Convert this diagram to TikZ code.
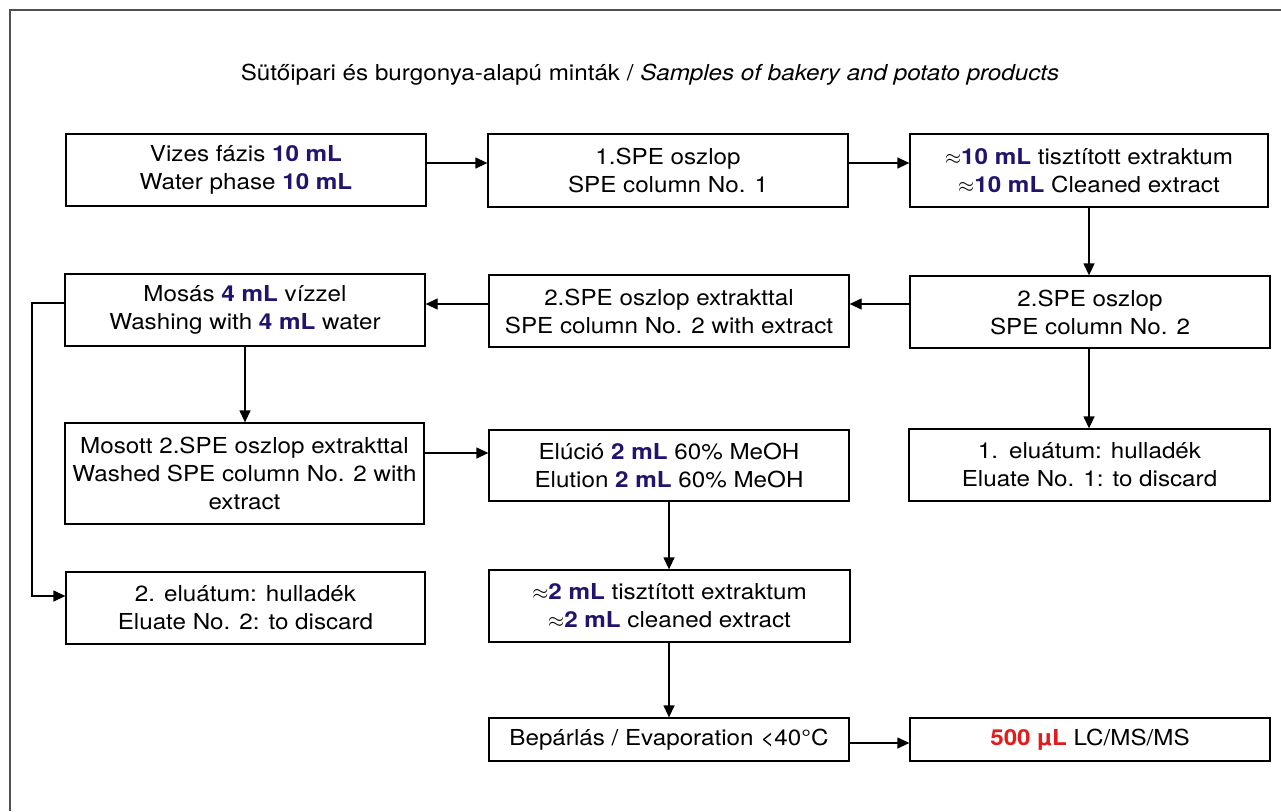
\documentclass[tikz,border=0pt]{standalone}
\usepackage{fontspec}
\setmainfont{TeX Gyre Heros}[FakeStretch=1.1]
\usetikzlibrary{arrows.meta}
\definecolor{navy}{RGB}{34,20,110}
\definecolor{redv}{RGB}{226,28,28}
\definecolor{frame}{RGB}{80,80,80}
\newcommand{\bl}[1]{\textbf{\color{navy}#1}}
\begin{document}
\begin{tikzpicture}[x=1pt,y=-1pt,
  box/.style={draw=black, line width=1.3pt, fill=white, inner sep=0pt, align=center,
    minimum width=360pt, minimum height=72pt, font=\fontsize{22}{28}\selectfont},
  arr/.style={line width=1.3pt, -{Triangle[length=12pt,width=11pt]}},
  ln/.style={line width=1.3pt}]
\useasboundingbox (0,0) rectangle (1281,811);
\fill[white] (0,0) rectangle (1281,811);
\draw[frame, line width=2pt] (10,811) -- (10,10) -- (1281,10);

\node[font=\fontsize{22}{28}\selectfont] (title) at (650,75) {Sütőipari és burgonya-alapú minták / \textit{Samples of bakery and potato products}};

\node[box] (A) at (246,170) {Vizes fázis \bl{10 mL}\\Water phase \bl{10 mL}};
\node[box, minimum height=73pt] (B) at (668,170.5) {1.SPE oszlop\\SPE column No. 1};
\node[box, minimum width=358pt, minimum height=73pt] (C) at (1089,170.5) {$\approx$\bl{10 mL} tisztított extraktum\\$\approx$\bl{10 mL} Cleaned extract};

\node[box] (D) at (245,310) {Mosás \bl{4 mL} vízzel\\Washing with \bl{4 mL} water};
\node[box] (E) at (669,311) {2.SPE oszlop extrakttal\\SPE column No. 2 with extract};
\node[box] (F) at (1090,312) {2.SPE oszlop\\SPE column No. 2};

\node[box, minimum width=359pt, minimum height=101pt] (G) at (244.5,473.5) {Mosott 2.SPE oszlop extrakttal\\Washed SPE column No. 2 with\\extract};
\node[box, minimum height=71pt] (H) at (669,465.5) {Elúció \bl{2 mL} 60\% MeOH\\Elution \bl{2 mL} 60\% MeOH};
\node[box, minimum width=361pt] (I) at (1089.5,465) {1.\enspace eluátum: hulladék\\Eluate No. 1: to discard};

\node[box, minimum width=359pt] (J) at (245.5,608) {2. eluátum: hulladék\\Eluate No. 2: to discard};
\node[box, minimum width=361pt] (K) at (669.5,606) {$\approx$\bl{2 mL} tisztított extraktum\\$\approx$\bl{2 mL} cleaned extract};

\node[box, minimum height=43pt] (L) at (669,739.5) {Bepárlás / Evaporation <40°C};
\node[box, minimum height=43pt] (M) at (1090,739.5) {\textbf{\color{redv}500 µL} LC/MS/MS};

\coordinate (dl) at (32,303);
\coordinate (jl) at (32,596);

\draw[arr] ([yshift=7pt]A.east) -- ([yshift=7.5pt]B.west);
\draw[arr] ([yshift=7.5pt]B.east) -- ([yshift=7.5pt]C.west);
\draw[arr] (C.south) -- (C.south |- F.north);
\draw[arr] ([yshift=8pt]F.west) -- ([yshift=7pt]E.east);
\draw[arr] ([yshift=7pt]E.west) -- ([yshift=6pt]D.east);
\draw[arr] (D.south) -- (D.south |- G.north);
\draw[arr] (D.west |- dl) -- (dl) -- (jl) -- (J.west |- jl);
\draw[arr] ([yshift=20.5pt]G.east) -- ([yshift=12.5pt]H.west);
\draw[arr] (F.south -| C.south) -- (C.south |- I.north);
\draw[arr] (H.south) -- (H.south |- K.north);
\draw[arr] (K.south -| H.south) -- (H.south |- L.north);
\draw[arr] ([yshift=-3.5pt]L.east) -- ([yshift=-3.5pt]M.west);
\end{tikzpicture}
\end{document}
